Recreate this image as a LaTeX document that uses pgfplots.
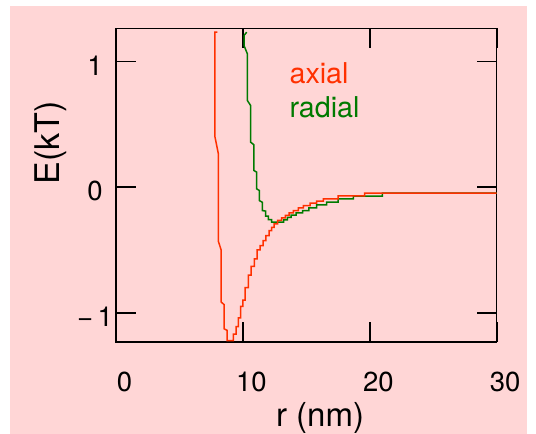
\documentclass[border=0pt]{standalone}
\usepackage{fontspec}
\setmainfont{TeX Gyre Heros}
\usepackage{pgfplots}
\pgfplotsset{compat=1.18}
\definecolor{bgpink}{RGB}{255,214,214}
\definecolor{axred}{RGB}{255,48,0}
\definecolor{radgreen}{RGB}{0,122,0}
\begin{document}
\begin{tikzpicture}
\path[use as bounding box] (-116pt,-92pt) rectangle (420pt,342pt);
\fill[bgpink] (-106pt,-92pt) rectangle (411pt,336.3pt);
\begin{axis}[
  at={(0pt,0pt)}, anchor=south west,
  scale only axis, width=380.7pt, height=313.7pt,
  xmin=0, xmax=30, ymin=-1.233, ymax=1.266,
  axis line style={line width=1.3pt},
  major tick style={black, line width=1.6pt},
  tick align=inside, major tick length=20pt,
  tick pos=both, xticklabel pos=lower, yticklabel pos=left,
  xtick={0,10,20,30}, xticklabels={0,10,20,30},
  ytick={-1,0,1}, yticklabels={−\,1,0,1},
  xticklabel style={anchor=center, xshift=8.5pt, yshift=-40pt,
    font=\fontsize{27.5}{30}\selectfont},
  yticklabel style={anchor=center, xshift=-21pt, yshift=-4pt,
    font=\fontsize{27.5}{30}\selectfont},
  xlabel={r (nm)}, ylabel={E(kT)},
  xlabel style={at={(axis description cs:0.536,-0.242)}, anchor=center,
    font=\fontsize{33}{36}\selectfont},
  ylabel style={at={(axis description cs:-0.171,0.636)}, anchor=center,
    font=\fontsize{34}{36}\selectfont},
]
% radial profile
\addplot[radgreen, line width=1.5pt] coordinates {
  (10.30,1.235) (10.09,1.209) (10.09,1.129) (10.35,1.063) (10.35,0.691)
  (10.61,0.651) (10.61,0.359) (10.87,0.338) (10.87,0.133) (11.09,0.120)
  (11.09,-0.013) (11.29,-0.026) (11.29,-0.106) (11.53,-0.120) (11.53,-0.186)
  (11.79,-0.190) (11.79,-0.230) (12.00,-0.230) (12.00,-0.259) (12.27,-0.259)
  (12.27,-0.279) (13.20,-0.279) (13.20,-0.260) (13.50,-0.260) (13.50,-0.240)
  (13.80,-0.240) (13.80,-0.222) (14.20,-0.222) (14.20,-0.205) (14.70,-0.205)
  (14.70,-0.186) (15.20,-0.186) (15.20,-0.164) (15.80,-0.164) (15.80,-0.140)
  (16.60,-0.140) (16.60,-0.119) (17.50,-0.119) (17.50,-0.093) (18.70,-0.093)
  (18.70,-0.071) (21.00,-0.071) (21.00,-0.047) (30.00,-0.047)
};
% axial profile
\addplot[axred, line width=1.5pt] coordinates {
  (7.98,1.235) (7.80,1.235) (7.80,0.400) (8.06,0.270) (8.06,-0.430)
  (8.29,-0.500) (8.29,-0.915) (8.52,-0.935) (8.52,-1.128) (8.75,-1.140)
  (8.75,-1.222) (9.25,-1.222) (9.25,-1.170) (9.46,-1.170) (9.46,-1.110)
  (9.64,-1.110) (9.64,-1.040) (9.83,-1.040) (9.83,-0.950) (10.00,-0.950)
  (10.00,-0.900) (10.17,-0.900) (10.17,-0.800) (10.43,-0.800) (10.43,-0.700)
  (10.64,-0.700) (10.64,-0.630) (10.90,-0.630) (10.90,-0.570) (11.13,-0.570)
  (11.13,-0.500) (11.35,-0.500) (11.35,-0.465) (11.60,-0.465) (11.60,-0.425)
  (11.82,-0.425) (11.82,-0.385) (12.06,-0.385) (12.06,-0.345) (12.27,-0.345)
  (12.27,-0.320) (12.47,-0.320) (12.47,-0.292) (12.74,-0.292) (12.74,-0.265)
  (13.05,-0.265) (13.05,-0.245) (13.35,-0.245) (13.35,-0.225) (13.65,-0.225)
  (13.65,-0.205) (13.97,-0.205) (13.97,-0.186) (14.37,-0.186) (14.37,-0.164)
  (14.76,-0.164) (14.76,-0.146) (15.29,-0.146) (15.29,-0.127) (15.81,-0.127)
  (15.81,-0.111) (16.35,-0.111) (16.35,-0.093) (17.50,-0.093) (17.50,-0.068)
  (19.60,-0.068) (19.60,-0.047) (30.00,-0.047)
};
\node[anchor=base west, inner sep=0pt, text=axred,
  font=\fontsize{28.7}{30}\selectfont] at (axis cs:13.66,0.824) {axial};
\node[anchor=base west, inner sep=0pt, text=radgreen,
  font=\fontsize{28.7}{30}\selectfont] at (axis cs:13.66,0.558) {radial};
\end{axis}
\end{tikzpicture}
\end{document}
